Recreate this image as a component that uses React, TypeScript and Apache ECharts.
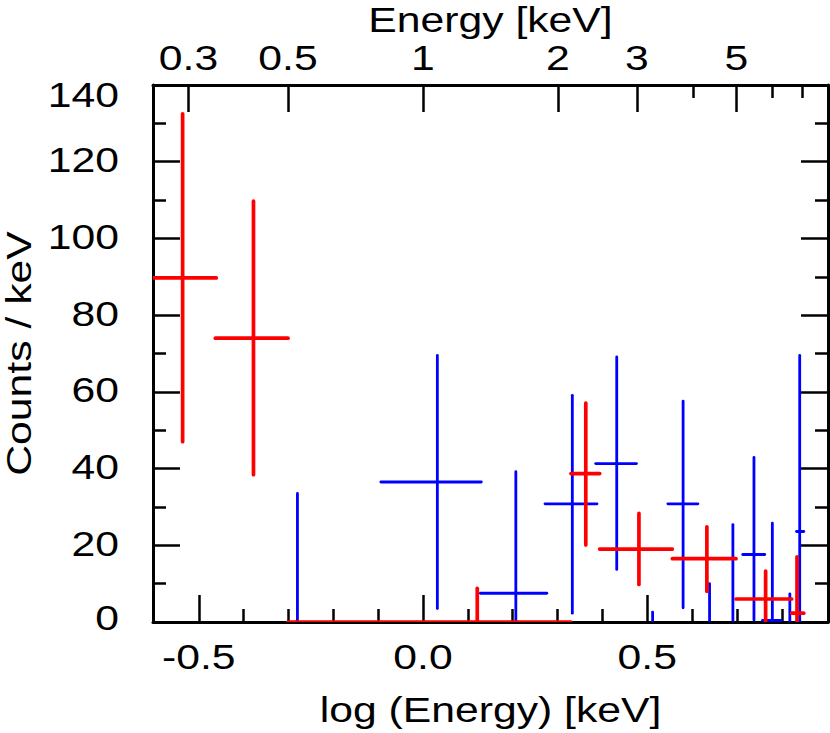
import React, { useEffect, useRef } from "react";
import * as echarts from "echarts";

// ---------- data ----------
const X_MIN = Math.log10(0.25);
const X_MAX = Math.log10(8);
const Y_MIN = 0;
const Y_MAX = 140;
const Y_STEP = 20;
const Y_TICKS = [0, 20, 40, 60, 80, 100, 120, 140];
const BOTTOM_MAJOR = [-0.5, 0, 0.5];
const BOTTOM_MINOR = [-0.4, -0.3, -0.2, -0.1, 0.1, 0.2, 0.3, 0.4, 0.6, 0.7, 0.8];
const TOP_MAJOR_KEV = [0.3, 0.5, 1, 2, 3, 5];
const TOP_MINOR_KEV = [4, 6, 7];

const X_TITLE_TOP = "Energy [keV]";
const X_TITLE_BOTTOM = "log (Energy) [keV]";
const Y_TITLE = "Counts / keV";

// [x, xLow, xHigh, y, yLow, yHigh]
const BLUE_POINTS = [
  [-0.28, -0.28, -0.28, 0, 0, 33.5],
  [0.032, -0.094, 0.13, 36.5, 3.5, 69.5],
  [0.207, 0.128, 0.276, 7.5, 0, 39.2],
  [0.333, 0.272, 0.388, 30.8, 2.3, 59.1],
  [0.432, 0.385, 0.476, 41.3, 13.7, 69.1],
  [0.512, 0.512, 0.512, 0, 0, 2.6],
  [0.58, 0.546, 0.613, 30.8, 3.7, 57.6],
  [0.639, 0.639, 0.639, 0, 0, 10.0],
  [0.691, 0.691, 0.691, 0, 0, 25.4],
  [0.738, 0.713, 0.762, 17.6, 0.5, 42.9],
  [0.779, 0.757, 0.799, 0.4, 0, 25.8],
  [0.818, 0.818, 0.818, 0, 0, 7.3],
  [0.84, 0.833, 0.849, 23.6, 0, 69.5],
];

const RED_POINTS = [
  [-0.536, -0.627, -0.461, 89.7, 47.0, 132.5],
  [-0.378, -0.463, -0.301, 74.0, 38.4, 109.7],
  [0.121, -0.301, 0.33, 0, 0, 8.8],
  [0.363, 0.33, 0.394, 38.7, 20.1, 57.1],
  [0.4815, 0.394, 0.556, 19.0, 9.8, 28.3],
  [0.633, 0.556, 0.698, 16.5, 8.0, 24.8],
  [0.764, 0.698, 0.822, 6.0, 0, 13.3],
  [0.834, 0.822, 0.849, 2.3, 0, 17.0],
];

// ---------- styles ----------
const FONT = '"Liberation Sans", Arial, Helvetica, sans-serif';
const FONT_SIZE = 35;
const STRETCH = 1.22;
const BLUE = "#0000ff";
const RED = "#ff0000";
const AXIS_LINE = { color: "#000", width: 3 };
const TICK_LINE = { color: "#000", width: 2.5 };

function makeRender(color: string, width: number) {
  return (params: any, api: any) => {
    const x = api.value(0);
    const xl = api.value(1);
    const xh = api.value(2);
    const y = api.value(3);
    const yl = api.value(4);
    const yh = api.value(5);
    const children: any[] = [];
    const style = { stroke: color, lineWidth: width, lineCap: "round" };
    if (xh > xl) {
      const a = api.coord([xl, y]);
      const b = api.coord([xh, y]);
      children.push({ type: "line", shape: { x1: a[0], y1: a[1], x2: b[0], y2: b[1] }, style });
    }
    if (yh > yl) {
      const a = api.coord([x, yl]);
      const b = api.coord([x, yh]);
      children.push({ type: "line", shape: { x1: a[0], y1: a[1], x2: b[0], y2: b[1] }, style });
    }
    return { type: "group", children };
  };
}

function xAxisDef(position: string, showLine: boolean, values: number[], length: number) {
  return {
    type: "value",
    position,
    min: X_MIN,
    max: X_MAX,
    splitLine: { show: false },
    axisLabel: { show: false },
    axisLine: { show: showLine, onZero: false, lineStyle: AXIS_LINE },
    axisTick: { show: true, inside: true, length, customValues: values, lineStyle: TICK_LINE },
  };
}

function yAxisDef(position: string) {
  return {
    type: "value",
    position,
    min: Y_MIN,
    max: Y_MAX,
    interval: Y_STEP,
    splitLine: { show: false },
    minorSplitLine: { show: false },
    axisLabel: { show: false },
    axisLine: { show: true, onZero: false, lineStyle: AXIS_LINE },
    axisTick: { show: true, inside: true, length: 27, lineStyle: TICK_LINE },
    minorTick: { show: true, splitNumber: 2, length: 13, lineStyle: TICK_LINE },
  };
}

function textEl(text: string, x: number, y: number, align: string, rotation = 0) {
  return {
    type: "text",
    x,
    y,
    rotation,
    scaleX: STRETCH,
    scaleY: 1,
    silent: true,
    z: 10,
    style: {
      text,
      x: 0,
      y: 0,
      fontSize: FONT_SIZE,
      fontFamily: FONT,
      fill: "#000",
      align,
      verticalAlign: "middle",
      textAlign: align,
      textVerticalAlign: "middle",
    },
  };
}

export default function App() {
  const ref = useRef<HTMLDivElement>(null);

  useEffect(() => {
    if (!ref.current) return;
    const chart = echarts.init(ref.current, undefined, { renderer: "svg" });
    const option: any = {
      animation: false,
      backgroundColor: "#fff",
      grid: { left: 153, right: 2, top: 85, bottom: 111, containLabel: false, outerBoundsMode: "none" },
      xAxis: [
        xAxisDef("bottom", true, BOTTOM_MAJOR, 27),
        xAxisDef("bottom", false, BOTTOM_MINOR, 13),
        xAxisDef("top", true, TOP_MAJOR_KEV.map((e) => Math.log10(e)), 27),
        xAxisDef("top", false, TOP_MINOR_KEV.map((e) => Math.log10(e)), 13),
      ],
      yAxis: [yAxisDef("left"), yAxisDef("right")],
      series: [
        {
          type: "custom",
          name: "blue",
          xAxisIndex: 0,
          yAxisIndex: 0,
          clip: true,
          z: 3,
          data: BLUE_POINTS,
          encode: { x: [0, 1, 2], y: [3, 4, 5] },
          renderItem: makeRender(BLUE, 2.8),
        },
        {
          type: "custom",
          name: "red",
          xAxisIndex: 0,
          yAxisIndex: 0,
          clip: true,
          z: 4,
          data: RED_POINTS,
          encode: { x: [0, 1, 2], y: [3, 4, 5] },
          renderItem: makeRender(RED, 3.7),
        },
      ],
    };
    chart.setOption(option);

    const toX = (v: number) => chart.convertToPixel({ xAxisIndex: 0 } as any, v) as unknown as number;
    const toY = (v: number) => chart.convertToPixel({ yAxisIndex: 0 } as any, v) as unknown as number;
    const left = toX(X_MIN);
    const right = toX(X_MAX);
    const top = toY(Y_MAX);
    const bottom = toY(Y_MIN);
    const cx = (left + right) / 2;
    const cy = (top + bottom) / 2;

    const graphics: any[] = [];
    Y_TICKS.forEach((v) => {
      const off = v === Y_MAX ? 10 : v === Y_MIN ? -4 : -1.5;
      graphics.push(textEl(String(v), left - 34, toY(v) + off, "right"));
    });
    BOTTOM_MAJOR.forEach((v) => {
      graphics.push(textEl(v.toFixed(1), toX(v), bottom + 35, "center"));
    });
    TOP_MAJOR_KEV.forEach((e) => {
      graphics.push(textEl(String(e), toX(Math.log10(e)), top - 27.5, "center"));
    });
    graphics.push(textEl(X_TITLE_TOP, cx, top - 65, "center"));
    graphics.push(textEl(X_TITLE_BOTTOM, cx, bottom + 88, "center"));
    graphics.push(textEl(Y_TITLE, 19, cy, "center", Math.PI / 2));

    chart.setOption({ graphic: graphics });

    return () => {
      chart.dispose();
    };
  }, []);

  return (
    <div
      ref={ref}
      style={{ position: "fixed", left: 0, top: 0, width: 830, height: 733, background: "#fff" }}
    />
  );
}
